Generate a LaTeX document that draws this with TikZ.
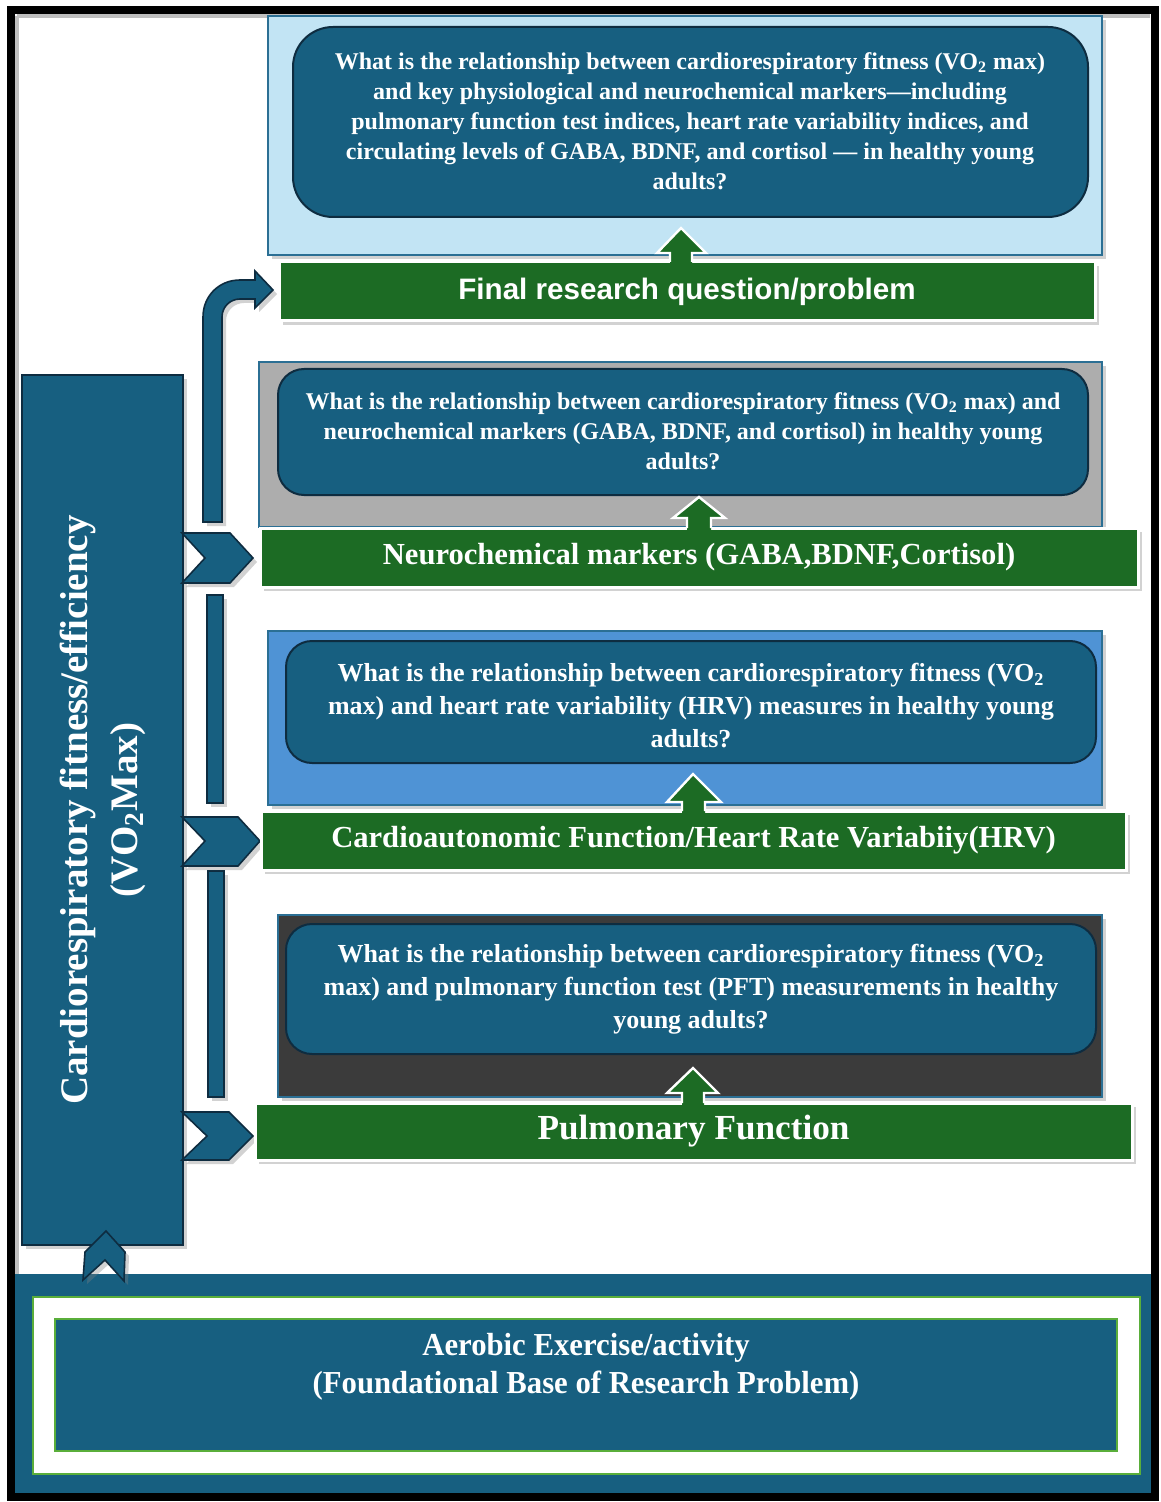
\documentclass[tikz,border=0pt]{standalone}
\usepackage{fontspec}
\setmainfont{Liberation Serif}
\newfontfamily\sansb{Liberation Sans}
\usetikzlibrary{fit,shadows}
\definecolor{dblue}{HTML}{175F80}
\definecolor{dborder}{HTML}{0E2C40}
\definecolor{dgreen}{HTML}{1C6B24}
\definecolor{lgreen}{HTML}{5AAE3A}
\definecolor{pborder}{HTML}{2B6F94}
\definecolor{plight}{HTML}{C2E4F4}
\definecolor{pgray}{HTML}{ADADAD}
\definecolor{pmid}{HTML}{4F93D5}
\definecolor{pdark}{HTML}{3B3B3B}
\tikzset{
  shad/.style={drop shadow={shadow xshift=2pt,shadow yshift=-2pt,opacity=0.35}},
  panel/.style={draw=pborder,line width=1.2pt,inner sep=0pt,shad},
  qbox/.style={fill=dblue,draw=dborder,line width=1pt,inner sep=0pt},
  gbar/.style={fill=dgreen,draw=white,line width=1.5pt,inner sep=0pt,shad},
  chev/.style={fill=dblue,draw=dborder,line width=0.8pt,shad},
  uparr/.style={fill=dgreen},
  uparrline/.style={draw=white,line width=1.2pt},
  qtext/.style={text=white,align=center,font=\bfseries\fontsize{12}{15}\selectfont},
  qtextb/.style={text=white,align=center,font=\bfseries\fontsize{13}{16.5}\selectfont},
  btext/.style={text=white,align=center,font=\bfseries\fontsize{15.3}{17}\selectfont}
}
\begin{document}
\begin{tikzpicture}[x=0.5pt,y=-0.5pt]
\useasboundingbox (0,0) rectangle (1160,1502);
\fill[white] (0,0) rectangle (1160,1502);
% inner shadow of frame
\draw[black!25,line width=2pt] (17,16) -- (1150,16);
\draw[black!25,line width=2pt] (17,16) -- (17,1490);
% bottom band
\fill[dblue] (15,1274) rectangle (1152,1493);
\node[fit={(33,1297) (1140,1474)},fill=white,draw=lgreen,line width=1.2pt,inner sep=0pt] (basew) {};
\node[fit={(55,1319) (1117,1451)},fill=dblue,draw=lgreen,line width=1.2pt,inner sep=0pt] (base) {};
\node[text=white,align=center,font=\bfseries\fontsize{16}{19}\selectfont,xscale=0.96] (basetxt) at (586,1367) {Aerobic Exercise/activity\\(Foundational Base of Research Problem)};
% frame
\draw[line width=4pt] (11,10) rectangle (1155,1497);
% left box
\node[fit={(22,375) (183,1245)},fill=dblue,draw=dborder,line width=1pt,inner sep=0pt,shad] (vo2) {};
\node[rotate=90,text=white,align=center,font=\bfseries\fontsize{19.5}{25}\selectfont] (vo2txt) at (103,810) {Cardiorespiratory fitness/efficiency\\(VO\textsubscript{2}Max)};
% up chevron from base to left box
\draw[chev] (83,1280) -- (85,1252) -- (106,1231) -- (125,1252) -- (124,1281) -- (105,1260) -- cycle;
% vertical bars
\draw[chev] (207,595) rectangle (223,803);
\draw[chev] (208,871) rectangle (224,1097);
% bent arrow
\draw[chev] (203,522) -- (203,317) .. controls (203,296) and (219,280) .. (240,280) -- (255,280) -- (255,271) -- (273,290) -- (255,308) -- (255,299) -- (240,299) .. controls (230,299) and (222,307) .. (222,317) -- (222,522) -- cycle;
% right chevrons
\draw[chev] (182,533) -- (230,533) -- (253,558) -- (230,583) -- (182,583) -- (205,558) -- cycle;
\draw[chev] (182,817) -- (238,817) -- (260,841) -- (238,866) -- (182,866) -- (205,841) -- cycle;
\draw[chev] (182,1112) -- (229,1112) -- (253,1136) -- (229,1160) -- (182,1160) -- (207,1136) -- cycle;
% panel 1
\node[panel,fill=plight,fit={(268,16) (1102,255)}] (p1) {};
\node[qbox,rounded corners=20pt,fit={(293,27) (1088,217)}] (q1) {};
\node[qtext] (t1) at (690,121) {What is the relationship between cardiorespiratory fitness (VO\textsubscript{2} max)\\and key physiological and neurochemical markers—including\\pulmonary function test indices, heart rate variability indices, and\\circulating levels of GABA, BDNF, and cortisol — in healthy young\\adults?};
\node[gbar,fit={(279,262) (1095,321)}] (g1) {};
\node[text=white,font=\sansb\bfseries\fontsize{14.8}{16}\selectfont] (g1t) at (g1.center) {Final research question/problem};
\fill[uparr] (670,265) -- (670,253) -- (657,253) -- (681,228) -- (706,253) -- (692,253) -- (692,265) -- cycle;
\draw[uparrline] (670,262) -- (670,253) -- (657,253) -- (681,228) -- (706,253) -- (692,253) -- (692,262);
% panel 2
\node[panel,fill=pgray,fit={(259,362) (1102,527)}] (p2) {};
\node[qbox,rounded corners=13pt,fit={(278,369) (1088,495)}] (q2) {};
\node[qtext] (t2) at (683,431) {What is the relationship between cardiorespiratory fitness (VO\textsubscript{2} max) and\\neurochemical markers (GABA, BDNF, and cortisol) in healthy young\\adults?};
\node[gbar,fit={(260,528) (1138,587)}] (g2) {};
\node[btext] (g2t) at (g2.center) {Neurochemical markers (GABA,BDNF,Cortisol)};
\fill[uparr] (687,531) -- (687,518) -- (673,518) -- (699,497) -- (725,518) -- (711,518) -- (711,531) -- cycle;
\draw[uparrline] (687,528) -- (687,518) -- (673,518) -- (699,497) -- (725,518) -- (711,518) -- (711,528);
% panel 3
\node[panel,fill=pmid,fit={(268,631) (1102,805)}] (p3) {};
\node[qbox,rounded corners=13pt,fit={(286,641) (1096,763)}] (q3) {};
\node[qtextb] (t3) at (691,706) {What is the relationship between cardiorespiratory fitness (VO\textsubscript{2}\\max) and heart rate variability (HRV) measures in healthy young\\adults?};
\node[gbar,fit={(261,811) (1126,870)}] (g3) {};
\node[btext] (g3t) at (g3.center) {Cardioautonomic Function/Heart Rate Variabiiy(HRV)};
\fill[uparr] (682,814) -- (682,802) -- (667,802) -- (693,774) -- (721,802) -- (705,802) -- (705,814) -- cycle;
\draw[uparrline] (682,811) -- (682,802) -- (667,802) -- (693,774) -- (721,802) -- (705,802) -- (705,811);
% panel 4
\node[panel,fill=pdark,fit={(278,915) (1102,1097)}] (p4) {};
\node[qbox,rounded corners=13pt,fit={(286,924) (1096,1054)}] (q4) {};
\node[qtextb] (t4) at (691,989) {What is the relationship between cardiorespiratory fitness (VO\textsubscript{2}\\max) and pulmonary function test (PFT) measurements in healthy\\young adults?};
\node[gbar,fit={(255,1103) (1132,1160)}] (g4) {};
\node[text=white,font=\bfseries\fontsize{17.6}{19}\selectfont] (g4t) at (g4.center) {Pulmonary Function};
\fill[uparr] (682,1106) -- (682,1093) -- (667,1093) -- (693,1068) -- (718,1093) -- (704,1093) -- (704,1106) -- cycle;
\draw[uparrline] (682,1103) -- (682,1093) -- (667,1093) -- (693,1068) -- (718,1093) -- (704,1093) -- (704,1103);
\end{tikzpicture}
\end{document}
